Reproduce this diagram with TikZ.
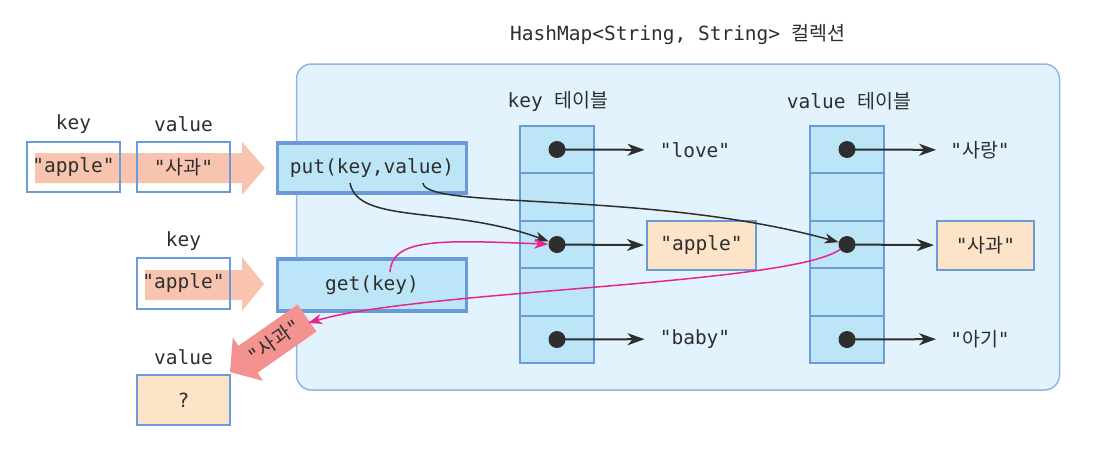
\documentclass[tikz,border=0pt]{standalone}
\usepackage{fontspec}
\setmonofont{DejaVu Sans Mono}
\newfontfamily\krfont{Noto Sans CJK KR}
\usetikzlibrary{arrows.meta}
\definecolor{cont}{HTML}{E2F3FD}
\definecolor{contb}{HTML}{8FB5E3}
\definecolor{boxf}{HTML}{BDE5F8}
\definecolor{boxb}{HTML}{6A9BD6}
\definecolor{peach}{HTML}{FDE3C8}
\definecolor{salmon}{HTML}{F9C4AF}
\definecolor{pinkar}{HTML}{F4928F}
\definecolor{mag}{HTML}{E6268C}
\definecolor{txt}{HTML}{2E2E2E}
\begin{document}
\begin{tikzpicture}[x=1pt,y=-1pt,
  every node/.style={font=\ttfamily\fontsize{19.5}{22}\selectfont, text=txt, inner sep=0pt},
  container/.style={draw=contb, fill=cont, line width=1.5pt, rounded corners=15pt},
  plainbox/.style={draw=boxb, line width=2pt, minimum width=93pt, minimum height=50pt},
  valbox/.style={draw=boxb, fill=peach, line width=2pt, minimum height=49pt},
  method/.style={draw=boxb, fill=boxf, line width=3.5pt, minimum width=189pt, minimum height=50pt},
  row/.style={draw=boxb, fill=boxf, line width=1.5pt, minimum width=74pt, minimum height=47.4pt},
  dot/.style={circle, fill=txt, minimum size=17pt},
  ptr/.style={draw=txt, line width=2pt, -{Stealth[length=17pt,width=12pt,inset=5pt]}},
  curveblk/.style={draw=txt, line width=1.5pt, -{Stealth[length=14pt,width=10pt,inset=4pt]}},
  curvemag/.style={draw=mag, line width=1.5pt, -{Stealth[length=14pt,width=10pt,inset=4pt]}}
]
\useasboundingbox (0,0) rectangle (1111,466);

% container
\node[container, minimum width=763pt, minimum height=326pt] (map) at (678,227) {};
\node (title) at (678,35) {HashMap<String, String> {\krfont 컬렉션}};

% salmon arrows
\fill[salmon] (35,153) -- (242,153) -- (242,142) -- (265,168) -- (242,195) -- (242,183) -- (35,183) -- cycle;
\fill[salmon] (145,270) -- (242,270) -- (242,257) -- (264,284) -- (242,311) -- (242,300) -- (145,300) -- cycle;

% left boxes
\node (lkey1) at (73.5,124) {key};
\node (lval1) at (183.5,124) {value};
\node[plainbox] (k1) at (73.5,167) {"apple"};
\node[plainbox] (v1) at (183.5,167) {"{\krfont 사과}"};
\node (lkey2) at (183.5,241) {key};
\node[plainbox, minimum height=51pt] (k2) at (183.5,283.5) {"apple"};
\node (lval2) at (183.5,357) {value};
\node[plainbox, fill=peach] (q) at (183.5,400) {?};

% methods
\node[method] (put) at (372,168) {put(key,value)};
\node[method, minimum height=52pt] (get) at (372,285) {get(key)};

% result arrow
\fill[pinkar] (297.5,304.5) -- (316.5,331.5) -- (257.5,372.8) -- (263.2,381) -- (230,372) -- (232.8,337.6) -- (238.5,345.8) -- cycle;
\node[rotate=35] (res) at (274,341) {"{\krfont 사과}"};

% tables
\node (klab) at (558,101) {key {\krfont 테이블}};
\node (vlab) at (849,101) {value {\krfont 테이블}};
\foreach \i/\y in {1/149.5,2/197,3/244.5,4/292,5/339.5}{
  \node[row] (kt\i) at (557,\y) {};
  \node[row] (vt\i) at (847,\y) {};
}
\foreach \i in {1,3,5}{
  \node[dot] (kd\i) at (kt\i.center) {};
  \node[dot] (vd\i) at (vt\i.center) {};
}

% targets
\node (love) at (695,150) {"love"};
\node[valbox, minimum width=109pt] (apple) at (701.5,245.5) {"apple"};
\node (baby) at (695,339) {"baby"};
\node (sarang) at (980,150) {"{\krfont 사랑}"};
\node[valbox, minimum width=97pt] (sagwa) at (985.5,245.5) {"{\krfont 사과}"};
\node (agi) at (980,339) {"{\krfont 아기}"};

\draw[ptr, shorten >=15pt] (kd1.center) -- (love);
\draw[ptr, shorten >=2pt] (kd3.center) -- (apple);
\draw[ptr, shorten >=15pt] (kd5.center) -- (baby);
\draw[ptr, shorten >=14pt] (vd1.center) -- (sarang);
\draw[ptr, shorten >=2pt] (vd3.center) -- (sagwa);
\draw[ptr, shorten >=14pt] (vd5.center) -- (agi);

% curves
\coordinate (putk) at (350,183);
\coordinate (putv) at (423,183);
\coordinate (getk) at (390,272);
\coordinate (gettip) at (308,323);
\draw[curveblk] (putk) .. controls (358,225) and (450,205) .. (kd3);
\draw[curveblk] (putv) .. controls (425,210) and (650,190) .. (vd3);
\draw[curvemag] (getk) .. controls (392,238) and (440,240) .. (kd3);
\draw[curvemag] (vd3) .. controls (790,285) and (420,290) .. (gettip);
\end{tikzpicture}
\end{document}
